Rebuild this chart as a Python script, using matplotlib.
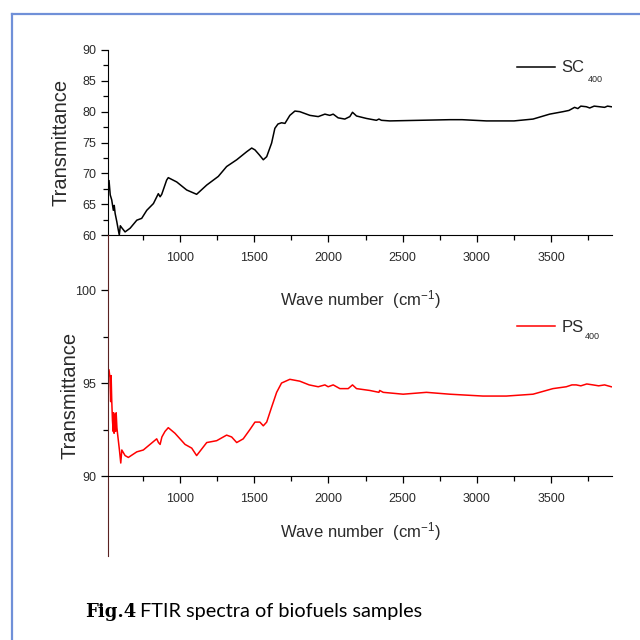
import matplotlib
matplotlib.use("Agg")
import matplotlib.pyplot as plt
from matplotlib.ticker import MultipleLocator, FixedLocator
from matplotlib.lines import Line2D

# SC400 spectrum
sc_wave = [522, 530, 540, 551, 557, 563, 574, 583, 591, 598, 607, 630, 664, 709, 742,
           776, 821, 854, 866, 877, 910, 921, 978, 1045, 1112, 1180, 1258, 1314, 1382,
           1449, 1483, 1505, 1534, 1561, 1584, 1617, 1639, 1660, 1684, 1707, 1740, 1774,
           1807, 1875, 1931, 1976, 2009, 2032, 2065, 2110, 2144, 2162, 2189, 2256, 2323,
           2340, 2357, 2413, 2615, 2817, 2900, 3064, 3250, 3378, 3490, 3580, 3620, 3658,
           3680, 3700, 3737, 3760, 3790, 3826, 3860, 3880, 3905]
sc_trans = [68.8, 66.5, 65.7, 64.0, 64.8, 63.5, 62.2, 61.0, 60.0, 61.5, 61.2, 60.5, 61.1,
            62.4, 62.7, 64.0, 65.1, 66.7, 66.2, 66.6, 68.9, 69.3, 68.6, 67.3, 66.6, 68.1,
            69.5, 71.1, 72.2, 73.5, 74.1, 73.8, 73.0, 72.2, 72.7, 74.9, 77.3, 78.0, 78.2,
            78.1, 79.4, 80.1, 80.0, 79.4, 79.2, 79.6, 79.4, 79.6, 79.0, 78.8, 79.2, 79.9,
            79.3, 78.9, 78.6, 78.8, 78.6, 78.5, 78.6, 78.7, 78.7, 78.5, 78.5, 78.8, 79.6,
            80.0, 80.2, 80.7, 80.5, 80.9, 80.8, 80.6, 80.9, 80.8, 80.7, 80.9, 80.8]

# PS400 spectrum
ps_wave = [522, 528, 533, 536, 540, 545, 550, 553, 556, 562, 566, 570, 575, 579, 592, 601,
           608, 630, 652, 709, 753, 798, 843, 855, 866, 878, 899, 921, 966, 1034, 1079,
           1112, 1180, 1247, 1314, 1348, 1382, 1426, 1471, 1505, 1538, 1561, 1584, 1617,
           1651, 1684, 1740, 1807, 1870, 1931, 1976, 1998, 2032, 2077, 2133, 2162, 2189,
           2279, 2340, 2345, 2369, 2503, 2660, 2817, 3041, 3198, 3378, 3512, 3602, 3640,
           3669, 3700, 3740, 3782, 3820, 3860, 3905]
ps_trans = [95.7, 95.3, 94.0, 95.4, 94.1, 93.0, 92.4, 93.4, 92.3, 93.3, 92.4, 93.4, 92.6,
            92.3, 91.4, 90.7, 91.4, 91.1, 91.0, 91.3, 91.4, 91.7, 92.0, 91.8, 91.7, 92.1,
            92.4, 92.6, 92.3, 91.7, 91.5, 91.1, 91.8, 91.9, 92.2, 92.1, 91.8, 92.0, 92.5,
            92.9, 92.9, 92.7, 92.9, 93.7, 94.5, 95.0, 95.2, 95.1, 94.9, 94.8, 94.9, 94.8,
            94.9, 94.7, 94.7, 94.9, 94.7, 94.6, 94.5, 94.6, 94.5, 94.4, 94.5, 94.4, 94.3,
            94.3, 94.4, 94.7, 94.8, 94.9, 94.9, 94.85, 94.95, 94.9, 94.85, 94.9, 94.8]

plt.rcParams['font.family'] = ['Liberation Sans', 'DejaVu Sans']
plt.rcParams['mathtext.fontset'] = 'custom'
plt.rcParams['mathtext.rm'] = 'Liberation Sans'
plt.rcParams['mathtext.it'] = 'Liberation Sans'
txt = '#2a2a2a'
xlab = 'Wave number  (cm$^{-1}$)'

fig = plt.figure(figsize=(6.4, 6.4), dpi=100)

# blue page frame
fig.add_artist(Line2D([11.5/640, 11.5/640], [0, 1 - 13.5/640], color='#7090d8', lw=1.6))
fig.add_artist(Line2D([11.5/640, 1], [1 - 13.5/640, 1 - 13.5/640], color='#7090d8', lw=1.6))

ax1 = fig.add_axes([108/640, 1 - 235/640, 504/640, 185/640])
ax2 = fig.add_axes([108/640, 1 - 556/640, 504/640, 321/640])

for ax in (ax1, ax2):
    ax.set_facecolor('none')
    ax.set_xlim(515, 3910)
    ax.spines['top'].set_visible(False)
    ax.spines['right'].set_visible(False)
    ax.xaxis.set_major_locator(FixedLocator([1000, 1500, 2000, 2500, 3000, 3500]))
    ax.xaxis.set_minor_locator(FixedLocator([750, 1250, 1750, 2250, 2750, 3250, 3750]))
    ax.tick_params(which='both', direction='out', labelsize=9, colors='black', labelcolor=txt)
    ax.tick_params(axis='x', which='major', pad=7)
    ax.tick_params(which='major', length=5, width=0.9)
    ax.tick_params(which='minor', length=3.5, width=0.9)
    ax.set_ylabel('Transmittance', fontsize=14.5, color=txt)
    ax.set_xlabel(xlab, fontsize=12, color=txt)

ax1.plot(sc_wave, sc_trans, color='black', lw=1.1, label='SC')
ax1.set_ylim(60, 90)
ax1.yaxis.set_major_locator(MultipleLocator(5))
ax1.yaxis.set_minor_locator(MultipleLocator(2.5))
ax1.yaxis.set_label_coords(-0.074, 0.5)
ax1.xaxis.set_label_coords(0.5, -53/185)

ax2.plot(ps_wave, ps_trans, color='red', lw=1.1, label='PS')
ax2.set_ylim(85.7, 102.96)
ax2.spines['bottom'].set_position(('data', 90))
ax2.spines['left'].set_color('#5a2222')
ax2.yaxis.set_major_locator(FixedLocator([90, 95, 100]))
ax2.yaxis.set_minor_locator(FixedLocator([92.5, 97.5]))
ax2.yaxis.set_label_coords(-0.0575, 0.5)
ax2.xaxis.set_label_coords(0.5, 36/321)

for ax, ypos in ((ax1, 0.903), (ax2, 0.713)):
    leg = ax.legend(loc='center left', bbox_to_anchor=(0.811, ypos), frameon=False,
                    fontsize=12, borderpad=0, borderaxespad=0, handlelength=2.3,
                    handletextpad=0.4)
    for t in leg.get_texts():
        t.set_color(txt)

ax1.text(0.952, 0.838, '400', transform=ax1.transAxes, fontsize=6.5, color=txt, va='center')
ax2.text(0.947, 0.683, '400', transform=ax2.transAxes, fontsize=6.5, color=txt, va='center')

fig.text(85/640, 1 - 612/640, 'Fig.4', family='DejaVu Serif', weight='bold',
         fontsize=13, va='center', color='black')
fig.text(140/640, 1 - 612/640, 'FTIR spectra of biofuels samples', family='Lato',
         fontsize=14.3, va='center', color='black')

fig.savefig('out.png', dpi=100)
